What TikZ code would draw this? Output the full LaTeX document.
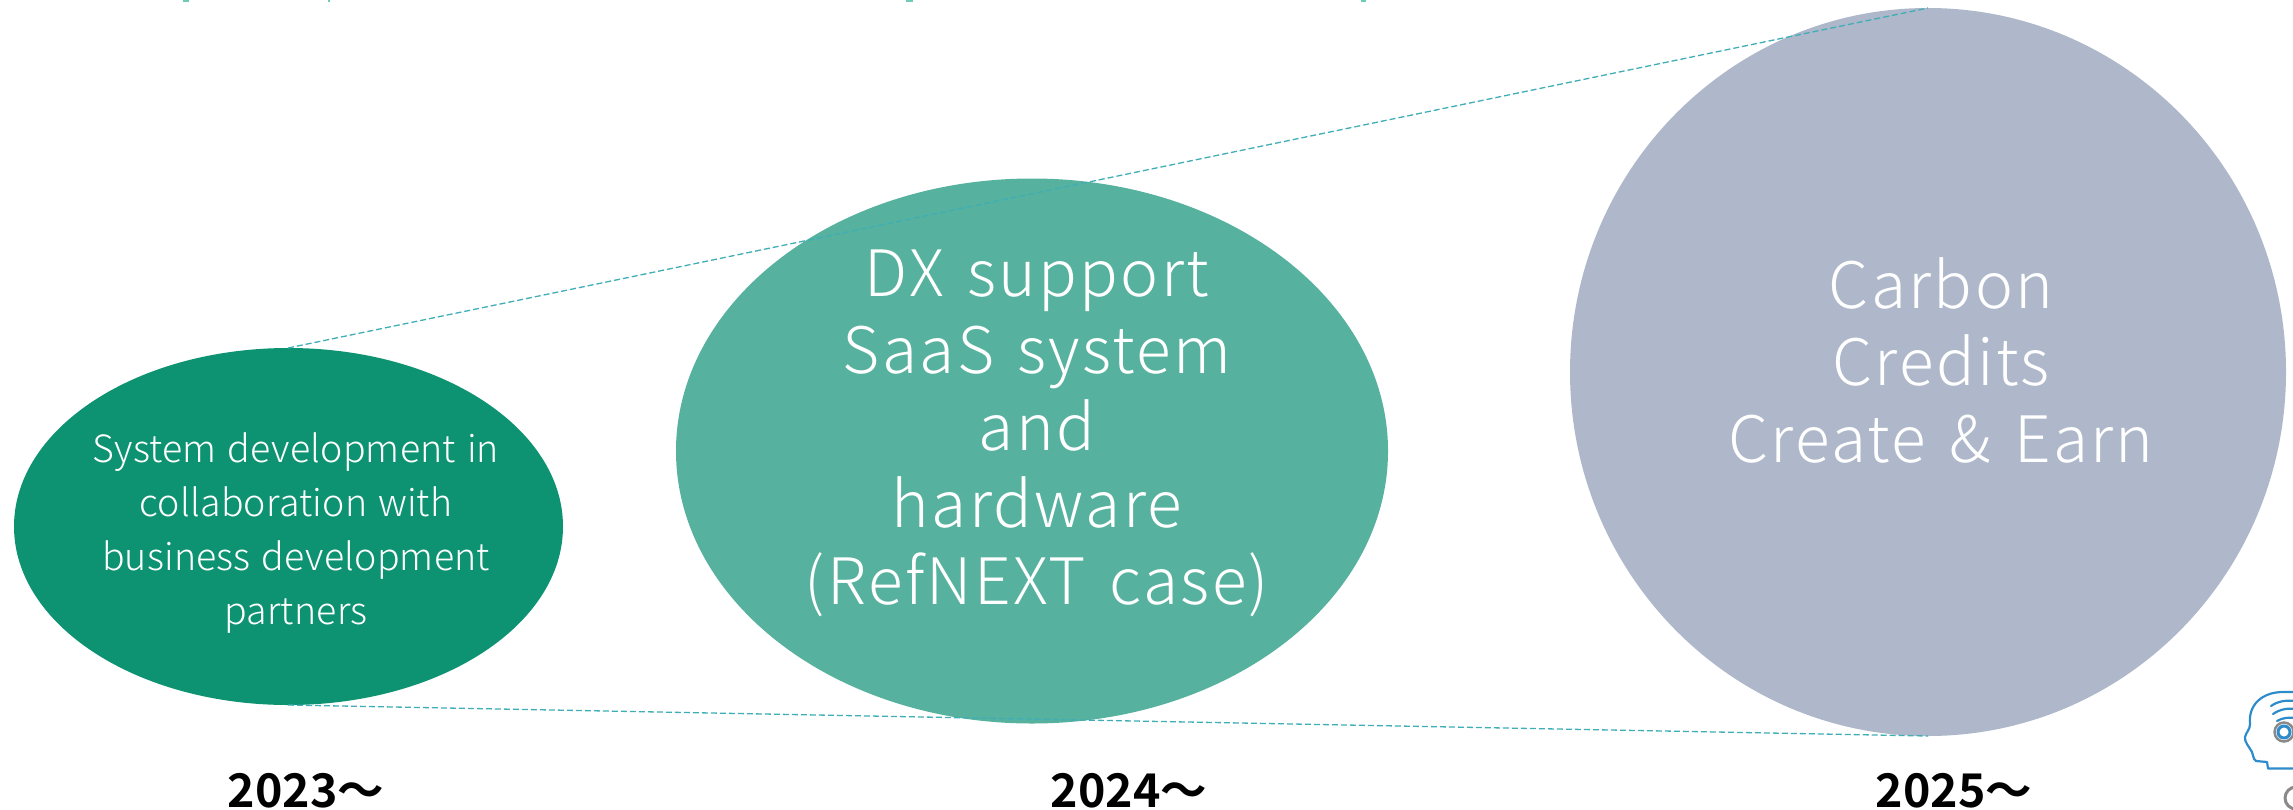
\documentclass[tikz,border=0pt]{standalone}
\usepackage{fontspec}
\setmainfont{Noto Sans CJK JP}[UprightFont=* Light,BoldFont=* Bold]
\newfontfamily\yearfont{Noto Sans CJK JP}[UprightFont=* Bold]
\newfontfamily\smallfont{Noto Sans CJK JP}[UprightFont=* Light,LetterSpace=0.5,WordSpace=1.3]
\newfontfamily\bigfont{Noto Sans CJK JP}[UprightFont=* Light,LetterSpace=3.8,WordSpace=1.4]
\definecolor{cOne}{HTML}{0E9372}
\definecolor{cTwo}{HTML}{56B19E}
\definecolor{cThree}{HTML}{AEB8CA}
\definecolor{cDash}{HTML}{3FAEB5}
\definecolor{cHead}{HTML}{2F8CCB}
\definecolor{cRing}{HTML}{8A8A8A}
\definecolor{cFrag}{HTML}{6CCDB4}
\usetikzlibrary{shapes.geometric}
\tikzset{
 blob/.style={ellipse,inner sep=0pt,outer sep=0pt},
 small/.style={text=white,align=center,font=\smallfont\fontsize{37.5}{54}\selectfont},
 big/.style={text=white,align=center,font=\bigfont\fontsize{64}{77}\selectfont},
 yearlabel/.style={font=\yearfont\fontsize{46.5}{50}\selectfont,text=black,anchor=base},
 guide/.style={draw=cDash,line width=1.3pt,dash pattern=on 6pt off 3pt},
 headline/.style={draw=cHead,line width=2.2pt,line cap=round,line join=round},
}
\begin{document}
\begin{tikzpicture}[x=1pt,y=-1pt]
\useasboundingbox (0,0) rectangle (2293,809);
\clip (0,0) rectangle (2293,809);
\node[blob,fill=cThree,minimum width=716pt,minimum height=728pt] (c) at (1928,372) {};
\node[blob,fill=cTwo,minimum width=712pt,minimum height=545pt] (b) at (1032,451) {};
\node[blob,fill=cOne,minimum width=549pt,minimum height=357pt] (a) at (288.5,526.5) {};
\coordinate (atop) at (288,348);
\coordinate (abot) at (288,705);
\coordinate (ctop) at (1928,8);
\coordinate (cbot) at (1928,736);
\draw[guide] (atop) -- (ctop);
\draw[guide] (abot) -- (cbot);
\node[small] (ta) at (296,533) {System development in\\collaboration with\\business development\\partners};
\node[big] (tb) at (1037,433) {DX support\\SaaS system\\and\\hardware\\(RefNEXT case)};
\node[big] (tc) at (1941,360) {Carbon\\Credits\\Create \& Earn};
\node[yearlabel] (ya) at (306,807) {2023～};
\node[yearlabel] (yb) at (1129,807) {2024～};
\node[yearlabel] (yc) at (1954,807) {2025～};
% clipped fragments on the top edge
\fill[cFrag] (183,0) rectangle (189,1.5);
\fill[cFrag] (328,0) rectangle (330,1.5);
\fill[cFrag] (906,0) rectangle (913,1.5);
\fill[cFrag] (1361,0) rectangle (1366,1.5);
% head icon, cut by the right edge
\draw[headline] (2296,768.5) -- (2268,768.5) -- (2267,762) -- (2256,761)
  .. controls (2252,758) and (2254,755) .. (2252,752)
  .. controls (2249,747) and (2244,741) .. (2245,737)
  .. controls (2246,732) and (2250,730) .. (2250,724)
  .. controls (2248,705) and (2262,692) .. (2283,692) -- (2296,692);
\draw[headline] (2271,706) .. controls (2278,701) and (2286,700) .. (2296,701);
\draw[headline] (2273,714) .. controls (2280,709) and (2288,708) .. (2296,709);
\draw[headline] (2277,721) .. controls (2282,718) and (2288,717) .. (2296,718);
\draw[cRing,line width=2.5pt] (2284,732) circle (9.5);
\draw[headline,line width=3pt] (2284,732) circle (6);
\draw[cRing,line width=3pt] (2296,798) circle (11);
\end{tikzpicture}
\end{document}
